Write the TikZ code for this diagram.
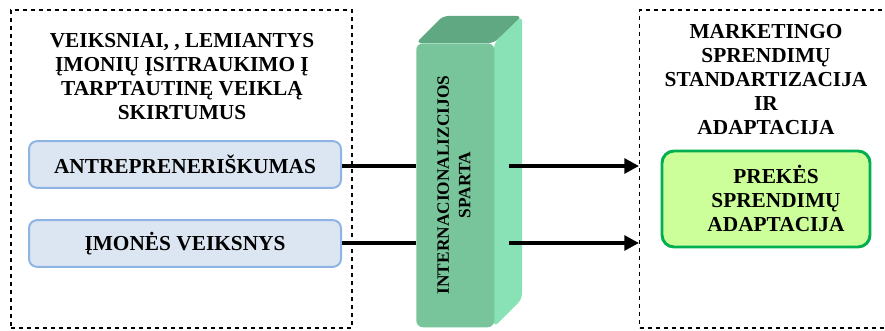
\documentclass[tikz,border=0pt]{standalone}
\usepackage{fontspec}
\setmainfont{Liberation Serif}
\usetikzlibrary{arrows.meta}

\definecolor{boxblue}{HTML}{DCE6F2}
\definecolor{lineblue}{HTML}{8EB4E3}
\definecolor{spfront}{HTML}{78C59B}
\definecolor{sptop}{HTML}{5FA882}
\definecolor{spside}{HTML}{88E2B5}
\definecolor{prekfill}{HTML}{CCFF99}
\definecolor{prekline}{HTML}{00B050}

\tikzset{
  frame/.style={draw, dashed, line width=0.9pt},
  title/.style={font=\fontsize{16}{18}\selectfont\bfseries, align=center},
  factor/.style={draw=lineblue, fill=boxblue, line width=1.5pt, rounded corners=6pt,
    minimum width=234pt, minimum height=35pt, font=\fontsize{16}{18}\selectfont\bfseries},
  link/.style={line width=3pt},
  arr/.style={line width=3pt, -{Triangle[length=11pt,width=11pt]}}
}

\begin{document}
\begin{tikzpicture}[x=0.75pt,y=-0.75pt]
\useasboundingbox (0,0) rectangle (885,331);

% =========================
% FRAMES
% =========================

\node[frame, minimum width=255.75pt, minimum height=238.5pt] (lframe) at (181.5,169) {};
\node[frame, minimum width=187.5pt, minimum height=238.5pt, anchor=west] (rframe) at (639,169) {};

% =========================
% LEFT SIDE
% =========================

\node[title] (ltitle) at (182,77) {VEIKSNIAI, , LEMIANTYS\\ĮMONIŲ ĮSITRAUKIMO Į\\TARPTAUTINĘ VEIKLĄ\\SKIRTUMUS};
\node[factor] (antr) at (185,164.5) {ANTREPRENERIŠKUMAS};
\node[factor] (imon) at (185,243.5) {ĮMONĖS VEIKSNYS};

% =========================
% 3D BAR
% =========================

\fill[sptop, rounded corners=4pt] (416,43) -- (443,16) -- (522,16) -- (494,43) -- cycle;
\fill[spside, rounded corners=4pt] (494,43) -- (522,16) -- (522,299) -- (494,327) -- cycle;
\node[fill=spfront, rounded corners=5pt, minimum width=58.5pt, minimum height=213pt,
  anchor=north west, inner sep=0pt] (sparta) at (416,43) {};
\node[rotate=90, align=center, font=\fontsize{13}{16}\selectfont\bfseries] (spartatxt)
  at (454,185) {INTERNACIONALIZCIJOS\\SPARTA};

% =========================
% RIGHT SIDE
% =========================

\node[title] (rtitle) at (766,80) {MARKETINGO\\SPRENDIMŲ\\STANDARTIZACIJA\\IR\\ADAPTACIJA};
\node[draw=prekline, fill=prekfill, line width=2.2pt, rounded corners=9pt,
  minimum width=156pt, minimum height=72pt] (prek) at (766,199) {};
\node[title] (prektxt) at (776,198) {PREKĖS\\SPRENDIMŲ\\ADAPTACIJA};

% =========================
% CONNECTORS
% =========================

\coordinate (o1) at (509,166);
\coordinate (o2) at (509,243);
\draw[link] (antr.east |- o1) -- (o1 -| sparta.west);
\draw[link] (imon.east |- o2) -- (o2 -| sparta.west);
\draw[arr] (o1) -- (o1 -| rframe.west);
\draw[arr] (o2) -- (o2 -| rframe.west);
\end{tikzpicture}
\end{document}
